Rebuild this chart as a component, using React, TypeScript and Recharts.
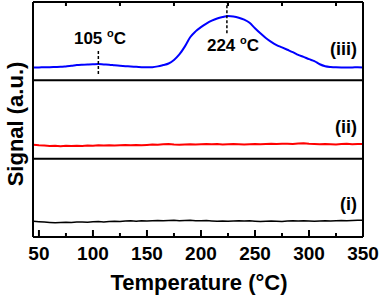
import { Line, LineChart, ReferenceLine, XAxis, YAxis } from "recharts";

// temperature grid (°C) shared by the three traces
const temps = [
  45, 50, 55, 60, 65, 70, 75, 80, 85, 90,
  95, 100, 105, 110, 115, 120, 125, 130, 135, 140,
  145, 150, 155, 160, 165, 170, 175, 180, 185, 190,
  195, 200, 205, 210, 215, 220, 225, 230, 235, 240,
  245, 250, 255, 260, 265, 270, 275, 280, 285, 290,
  295, 300, 305, 310, 315, 320, 325, 330, 335, 340,
  345, 350,
];

// trace (i), bottom panel, normalised to its own panel height
const sigI = [
  0.2, 0.195, 0.19, 0.186, 0.183, 0.185, 0.188, 0.184, 0.19, 0.193,
  0.189, 0.194, 0.197, 0.193, 0.198, 0.201, 0.197, 0.203, 0.206, 0.202,
  0.207, 0.204, 0.208, 0.211, 0.206, 0.21, 0.213, 0.208, 0.211, 0.214,
  0.209, 0.206, 0.21, 0.205, 0.201, 0.204, 0.2, 0.203, 0.207, 0.203,
  0.206, 0.202, 0.198, 0.201, 0.205, 0.202, 0.199, 0.203, 0.207, 0.204,
  0.208, 0.205, 0.201, 0.204, 0.208, 0.204, 0.207, 0.211, 0.207, 0.21,
  0.213, 0.215,
];

// trace (ii), middle panel
const sigII = [
  0.178, 0.172, 0.168, 0.163, 0.166, 0.16, 0.164, 0.162, 0.166, 0.163,
  0.168, 0.165, 0.17, 0.167, 0.172, 0.168, 0.171, 0.174, 0.17, 0.175,
  0.172, 0.176, 0.18, 0.177, 0.183, 0.186, 0.181, 0.178, 0.182, 0.185,
  0.18, 0.184, 0.187, 0.183, 0.186, 0.182, 0.185, 0.188, 0.184, 0.181,
  0.185, 0.188, 0.184, 0.187, 0.19, 0.186, 0.189, 0.192, 0.188, 0.193,
  0.196, 0.19, 0.187, 0.184, 0.188, 0.185, 0.182, 0.186, 0.189, 0.185,
  0.188, 0.186,
];

// trace (iii), top panel, desorption peak near 224 °C
const sigIII = [
  0.165, 0.165, 0.168, 0.168, 0.17, 0.172, 0.178, 0.185, 0.195, 0.2,
  0.203, 0.205, 0.207, 0.203, 0.2, 0.192, 0.185, 0.18, 0.178, 0.172,
  0.168, 0.166, 0.168, 0.178, 0.195, 0.215, 0.26, 0.33, 0.43, 0.55,
  0.625, 0.68, 0.725, 0.762, 0.79, 0.808, 0.82, 0.815, 0.8, 0.775,
  0.735, 0.665, 0.6, 0.54, 0.49, 0.45, 0.42, 0.39, 0.36, 0.325,
  0.3, 0.27, 0.245, 0.205, 0.18, 0.17, 0.166, 0.165, 0.165, 0.165,
  0.166, 0.165,
];

const majorTicks = [50, 100, 150, 200, 250, 300, 350];
const minorTicks = [75, 125, 175, 225, 275, 325];
const lowPeak = 105;
const highPeak = 224;

const data = temps.map((t, k) => ({ t, i: sigI[k], ii: sigII[k], iii: sigIII[k] }));

const FONT = '"Liberation Sans", Arial, Helvetica, sans-serif';
const X_DOMAIN: [number, number] = [44.5, 350];
const frame = { stroke: "#000", strokeWidth: 2 };
const tickStroke = { stroke: "#000", strokeWidth: 2 };

// plot box is 235px tall and spans 3 units on the "i" axis
const PX = 3 / 235;
const MINOR_LEN = 4 * PX;

function Degrees({ x, y, value }: { x: number; y: number; value: number }) {
  return (
    <text x={x} y={y} textAnchor="middle" fontSize={17} fontWeight="bold" fill="#000" fontFamily={FONT}>
      {value}{" "}
      <tspan fontSize={11} dy={-7}>o</tspan>
      <tspan dy={7}>C</tspan>
    </text>
  );
}

const panelLabel = { fontSize: 18, fontWeight: "bold" as const, fill: "#000", fontFamily: FONT, textAnchor: "end" as const };

export default function App() {
  return (
    <div style={{ position: "absolute", left: 0, top: 0, width: 380, height: 297, background: "#fff" }}>
      <LineChart
        width={380}
        height={297}
        data={data}
        margin={{ top: 1, right: 16, bottom: 30, left: 32 }}
        style={{ fontFamily: FONT }}
      >
        {/* major ticks point inward; labels pushed back below the frame */}
        <XAxis
          dataKey="t"
          type="number"
          domain={X_DOMAIN}
          allowDataOverflow
          ticks={majorTicks}
          interval={0}
          height={30}
          tickSize={-7}
          tickMargin={17}
          tickLine={tickStroke}
          tick={{ fontSize: 19, fontWeight: "bold", fill: "#000", fontFamily: FONT }}
          axisLine={frame}
        />
        <XAxis
          xAxisId="top"
          orientation="top"
          dataKey="t"
          type="number"
          domain={X_DOMAIN}
          allowDataOverflow
          ticks={majorTicks}
          interval={0}
          height={1}
          tickSize={-7}
          tick={false}
          tickLine={tickStroke}
          axisLine={frame}
        />
        {/* each trace gets its own third of the plot via offset domains */}
        <YAxis yAxisId="i" domain={[0, 3]} allowDataOverflow width={1} tick={false} tickLine={false} axisLine={frame} />
        <YAxis
          yAxisId="ii"
          orientation="right"
          domain={[-1, 2]}
          allowDataOverflow
          width={1}
          tick={false}
          tickLine={false}
          axisLine={frame}
        />
        <YAxis yAxisId="iii" domain={[-2, 1]} allowDataOverflow hide />

        <ReferenceLine yAxisId="i" y={1} stroke="#000" strokeWidth={2} />
        <ReferenceLine yAxisId="i" y={2} stroke="#000" strokeWidth={2} />

        {/* shorter minor ticks on bottom and top edges */}
        {minorTicks.map((v) => (
          <ReferenceLine
            key={`b${v}`}
            yAxisId="i"
            segment={[{ x: v, y: 0 }, { x: v, y: MINOR_LEN }]}
            stroke="#000"
            strokeWidth={2}
            ifOverflow="visible"
          />
        ))}
        {minorTicks.map((v) => (
          <ReferenceLine
            key={`t${v}`}
            yAxisId="i"
            segment={[{ x: v, y: 3 - MINOR_LEN }, { x: v, y: 3 }]}
            stroke="#000"
            strokeWidth={2}
            ifOverflow="visible"
          />
        ))}

        <Line yAxisId="i" dataKey="i" stroke="#000" strokeWidth={1.5} dot={false} isAnimationActive={false} type="linear" />
        <Line yAxisId="ii" dataKey="ii" stroke="#ff0000" strokeWidth={2} dot={false} isAnimationActive={false} type="linear" />
        <Line yAxisId="iii" dataKey="iii" stroke="#0000ff" strokeWidth={2} dot={false} isAnimationActive={false} type="monotone" />

        <ReferenceLine
          yAxisId="iii"
          segment={[{ x: lowPeak, y: 0.08 }, { x: lowPeak, y: 0.385 }]}
          stroke="#000"
          strokeWidth={1.5}
          strokeDasharray="3 2"
        />
        <ReferenceLine
          yAxisId="iii"
          segment={[{ x: highPeak, y: 0.6 }, { x: highPeak, y: 0.99 }]}
          stroke="#000"
          strokeWidth={1.5}
          strokeDasharray="3 2"
        />

        <Degrees x={100} y={44} value={lowPeak} />
        <Degrees x={233} y={51} value={highPeak} />

        <text x={357} y={55} {...panelLabel}>(iii)</text>
        <text x={357} y={133} {...panelLabel}>(ii)</text>
        <text x={357} y={210} {...panelLabel}>(i)</text>

        <text
          x={15}
          y={124}
          transform="rotate(-90, 15, 124)"
          textAnchor="middle"
          dominantBaseline="central"
          fontSize={22}
          fontWeight="bold"
          fill="#000"
          fontFamily={FONT}
        >
          Signal (a.u.)
        </text>
        <text x={199} y={290} textAnchor="middle" fontSize={22} fontWeight="bold" fill="#000" fontFamily={FONT}>
          Temperature (°C)
        </text>
      </LineChart>
    </div>
  );
}
